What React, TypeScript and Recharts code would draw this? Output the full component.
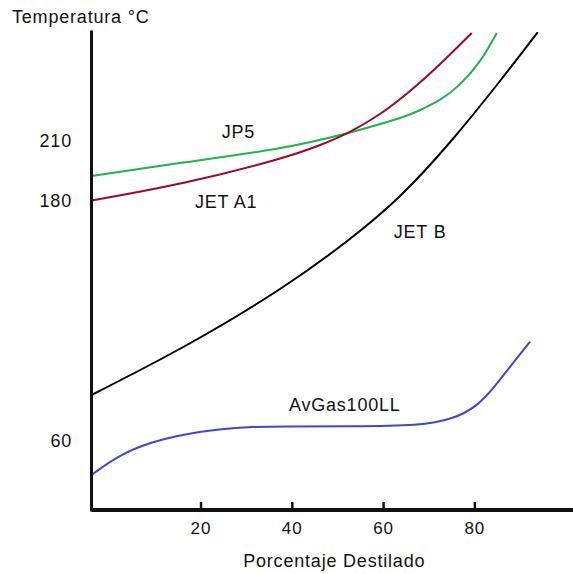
import React from 'react';
import { LineChart, Line, XAxis, YAxis, ReferenceDot } from 'recharts';

// Tick labels
const xTicks = [20, 40, 60, 80];
const yTicks = [60, 180, 210];

// JP5 (green)
const jp5X = [-4, 16.05, 36.2, 52, 63.6, 68, 72.4, 76.7, 81.1, 84.8];
const jp5Y = [192.5, 199.2, 206, 213.9, 221.5, 225.5, 230.7, 238.3, 249.9, 264];

// JET A1 (dark red)
const jetA1X = [-4, 16.5, 36.2, 46.1, 52.6, 59.2, 65.8, 72.4, 79.3];
const jetA1Y = [180.2, 189.2, 200.5, 208, 214.6, 223.5, 235, 248.5, 264];

// JET B (black)
const jetBX = [-4, 16.5, 37.3, 52.6, 63.6, 74.6, 85.5, 93.8];
const jetBY = [83, 107.5, 136, 161, 182.5, 209.5, 240, 264.5];

// AvGas100LL (blue)
const avgasX = [-4, 2, 9.3, 16.6, 23.9, 31.2, 38.5, 52.7, 68, 75.3, 80.4, 84.1, 87.7, 92.1];
const avgasY = [43, 53, 59.7, 63.5, 65.9, 67.2, 67.3, 67.3, 67.6, 71, 77.2, 86.4, 97.2, 109.7];

// Series name labels (data coordinates)
const labelNames = ['JP5', 'JET A1', 'JET B', 'AvGas100LL'];
const labelX = [28.2, 25.5, 68, 51.5];
const labelY = [214.6, 179.6, 164.6, 78];

const toPoints = (xs: number[], ys: number[]) => xs.map((x, i) => ({ x, y: ys[i] }));

const FONT = '"Liberation Sans", Arial, sans-serif';
const INK = '#111';

const XTick = (props: any) => {
  const { x, y, payload } = props;
  return (
    <g>
      <line x1={x} x2={x} y1={y - 8} y2={y} stroke={INK} strokeWidth={2.5} />
      <text x={x} y={y + 23.5} textAnchor="middle" fontFamily={FONT} fontSize={17} letterSpacing={1} fill={INK}>
        {payload.value}
      </text>
    </g>
  );
};

const YTick = (props: any) => {
  const { x, y, payload } = props;
  return (
    <text x={x - 19.5} y={y} dy="0.355em" textAnchor="end" fontFamily={FONT} fontSize={18} letterSpacing={0.8} fill={INK}>
      {payload.value}
    </text>
  );
};

const makeNameShape = (name: string) => (props: any) => (
  <text x={props.cx} y={props.cy} dy="0.355em" textAnchor="middle" fontFamily={FONT} fontSize={18} letterSpacing={0.8} fill={INK}>
    {name}
  </text>
);

const series = [
  { key: 'jp5', data: toPoints(jp5X, jp5Y), color: '#22b14c', curve: 'natural' },
  { key: 'jeta1', data: toPoints(jetA1X, jetA1Y), color: '#990a2c', curve: 'natural' },
  { key: 'jetb', data: toPoints(jetBX, jetBY), color: '#000000', curve: 'natural' },
  { key: 'avgas', data: toPoints(avgasX, avgasY), color: '#3f48cc', curve: 'basis' },
];

export default function App() {
  return (
    <div style={{ position: 'absolute', left: 0, top: 0, fontFamily: FONT, background: '#fff' }}>
      <LineChart width={573} height={574} margin={{ top: 32, right: 0, bottom: 0, left: 0 }}>
        <XAxis
          type="number"
          dataKey="x"
          domain={[-4, 101.5]}
          allowDataOverflow
          ticks={xTicks}
          tick={<XTick />}
          tickLine={false}
          tickSize={0}
          tickMargin={0}
          height={64}
          axisLine={{ stroke: INK, strokeWidth: 4 }}
          label={{
            content: (p: any) => {
              const vb = p.viewBox || { x: 91.5, y: 510, width: 481.5, height: 64 };
              return (
                <text x={vb.x + vb.width / 2 + 2} y={vb.y + vb.height - 7} textAnchor="middle" fontFamily={FONT} fontSize={18} letterSpacing={0.8} fill={INK}>
                  Porcentaje Destilado
                </text>
              );
            },
          }}
        />
        <YAxis
          type="number"
          domain={[25.5, 264.5]}
          allowDataOverflow
          ticks={yTicks}
          tick={<YTick />}
          tickLine={false}
          tickSize={0}
          tickMargin={0}
          width={91.5}
          axisLine={{ stroke: INK, strokeWidth: 3, strokeLinecap: 'square' }}
          label={{
            content: () => (
              <text x={12} y={23} textAnchor="start" fontFamily={FONT} fontSize={18} letterSpacing={0.8} fill={INK}>
                Temperatura °C
              </text>
            ),
          }}
        />
        {series.map((s) => (
          <Line
            key={s.key}
            data={s.data}
            dataKey="y"
            type={s.curve as any}
            stroke={s.color}
            strokeWidth={2}
            dot={false}
            activeDot={false}
            isAnimationActive={false}
          />
        ))}
        {labelNames.map((n, i) => (
          <ReferenceDot key={n} x={labelX[i]} y={labelY[i]} r={0} shape={makeNameShape(n)} />
        ))}
      </LineChart>
    </div>
  );
}
